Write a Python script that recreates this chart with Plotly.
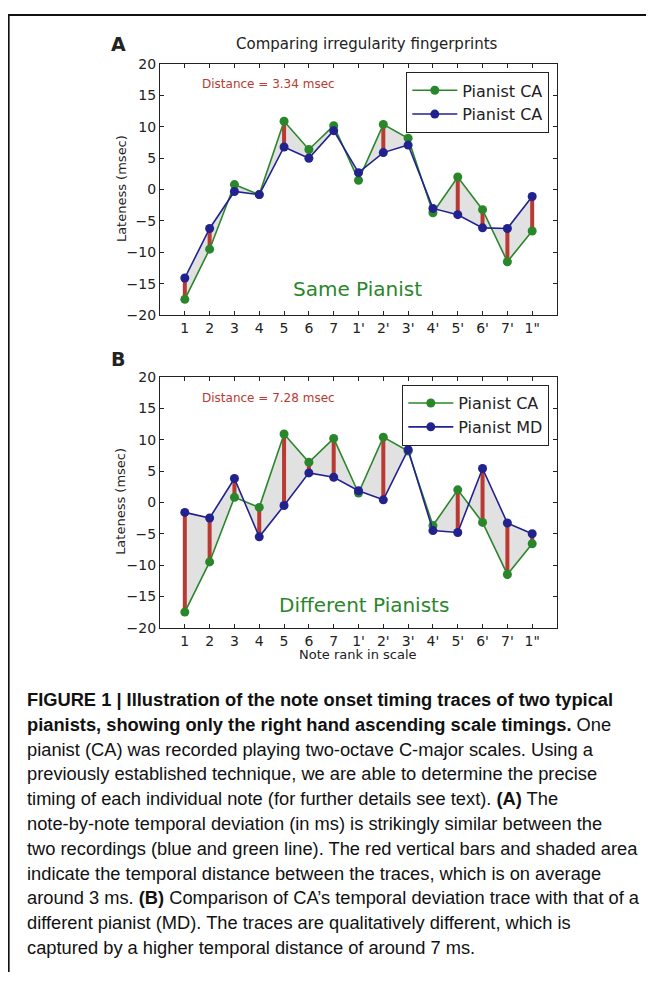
import plotly.graph_objects as go

# Page body has an 8px default margin: the figure is made 16px smaller and
# every layout position is shifted by that margin.
OFF = 8
W, H = 654 - 2 * OFF, 988 - 2 * OFF

notes = ["1", "2", "3", "4", "5", "6", "7", "1'", "2'", "3'", "4'", "5'", "6'", "7'", "1\""]
ranks = list(range(1, 16))

ca_trace = [-17.5, -9.5, 0.8, -0.8, 10.9, 6.4, 10.2, 1.5, 10.4, 8.2, -3.7, 2.0, -3.2, -11.5, -6.6]
ca_repeat = [-14.1, -6.2, -0.3, -0.8, 6.8, 5.0, 9.4, 2.7, 5.9, 7.1, -3.0, -4.0, -6.1, -6.2, -1.1]
md_trace = [-1.6, -2.5, 3.8, -5.5, -0.5, 4.7, 4.0, 1.85, 0.4, 8.4, -4.5, -4.8, 5.4, -3.3, -5.0]

dist_a = "Distance = 3.34 msec"
dist_b = "Distance = 7.28 msec"

GREEN = "#2a862a"
BLUE = "#22228f"
RED = "#b83a32"
FILL = "rgba(200,200,200,0.55)"
FONT = "DejaVu Sans"


def px(x):
    return (x - OFF) / W


def py(y):
    return 1 - (y - OFF) / H


fig = go.Figure()


def add_panel(ref_x, ref_y, base, other, base_name, other_name, legend):
    fig.add_trace(go.Scatter(x=ranks, y=base, mode="lines", line=dict(width=0),
                             showlegend=False, hoverinfo="skip", xaxis=ref_x, yaxis=ref_y))
    fig.add_trace(go.Scatter(x=ranks, y=other, mode="lines", line=dict(width=0),
                             fill="tonexty", fillcolor=FILL,
                             showlegend=False, hoverinfo="skip", xaxis=ref_x, yaxis=ref_y))
    bx, by = [], []
    for r, a, b in zip(ranks, base, other):
        bx += [r, r, None]
        by += [a, b, None]
    fig.add_trace(go.Scatter(x=bx, y=by, mode="lines", line=dict(color=RED, width=4),
                             showlegend=False, hoverinfo="skip", xaxis=ref_x, yaxis=ref_y))
    fig.add_trace(go.Scatter(x=ranks, y=base, mode="lines+markers", name=base_name,
                             line=dict(color=GREEN, width=1.6),
                             marker=dict(color=GREEN, size=9),
                             legend=legend, xaxis=ref_x, yaxis=ref_y))
    fig.add_trace(go.Scatter(x=ranks, y=other, mode="lines+markers", name=other_name,
                             line=dict(color=BLUE, width=1.6),
                             marker=dict(color=BLUE, size=9),
                             legend=legend, xaxis=ref_x, yaxis=ref_y))


add_panel("x", "y", ca_trace, ca_repeat, "Pianist CA", "Pianist CA", "legend")
add_panel("x2", "y2", ca_trace, md_trace, "Pianist CA", "Pianist MD", "legend2")

axis_common = dict(showline=True, linecolor="#222", linewidth=1.3, mirror="allticks",
                   ticks="inside", ticklen=4, tickcolor="#222", showgrid=False, zeroline=False,
                   tickfont=dict(family=FONT, size=14, color="#222"))

xd = [px(160), px(557)]
legend_common = dict(xanchor="right", yanchor="top", traceorder="normal",
                     bordercolor="#222", borderwidth=1.3, bgcolor="white",
                     font=dict(family=FONT, size=16, color="#222"), itemwidth=45,
                     tracegroupgap=0)
fig.update_layout(
    width=W, height=H,
    margin=dict(l=0, r=0, t=0, b=0),
    paper_bgcolor="white", plot_bgcolor="white",
    xaxis=dict(domain=xd, range=[0, 16], tickvals=ranks, ticktext=notes, anchor="y", **axis_common),
    yaxis=dict(domain=[py(312), py(57)], range=[-20, 20], dtick=5, anchor="x", **axis_common),
    xaxis2=dict(domain=xd, range=[0, 16], tickvals=ranks, ticktext=notes, anchor="y2", **axis_common),
    yaxis2=dict(domain=[py(630), py(375)], range=[-20, 20], dtick=5, anchor="x2", **axis_common),
    legend=dict(x=px(549), y=py(65), **legend_common),
    legend2=dict(x=px(549), y=py(383), **legend_common),
    showlegend=True,
)

ann = []


def text(x, y, s, size, color="#222", anchor="center", angle=0, family=FONT):
    ann.append(dict(x=px(x), y=py(y), xref="paper", yref="paper", text=s, showarrow=False,
                    xanchor=anchor, yanchor="middle", textangle=angle,
                    font=dict(family=family, size=size, color=color)))


text(118, 36, "<b>A</b>", 19)
text(118, 357, "<b>B</b>", 19)
text(367, 36, "Comparing irregularity fingerprints", 15)
text(200, 77, dist_a, 12, RED, "left")
text(200, 396, dist_b, 12, RED, "left")
text(357, 286, "Same Pianist", 20, GREEN)
text(364, 607, "Different Pianists", 20, GREEN)
text(121, 184, "Lateness (msec)", 13, angle=-90)
text(121, 502, "Lateness (msec)", 13, angle=-90)
text(358, 657, "Note rank in scale", 13)

caption = [
    "<b>FIGURE 1 | Illustration of the note onset timing traces of two typical</b>",
    "<b>pianists, showing only the right hand ascending scale timings.</b> One",
    "pianist (CA) was recorded playing two-octave C-major scales. Using a",
    "previously established technique, we are able to determine the precise",
    "timing of each individual note (for further details see text). <b>(A)</b> The",
    "note-by-note temporal deviation (in ms) is strikingly similar between the",
    "two recordings (blue and green line). The red vertical bars and shaded area",
    "indicate the temporal distance between the traces, which is on average",
    "around 3 ms. <b>(B)</b> Comparison of CA\u2019s temporal deviation trace with that of a",
    "different pianist (MD). The traces are qualitatively different, which is",
    "captured by a higher temporal distance of around 7 ms.",
]
for i, line in enumerate(caption):
    text(25, 703 + i * 25.2, line, 18.3, "#111", "left",
         family="Liberation Sans Narrow, Arial Narrow, Liberation Sans, Arial")

fig.update_layout(annotations=ann)

fig.update_layout(shapes=[
    dict(type="line", xref="paper", yref="paper", x0=0, x1=1, y0=py(7), y1=py(7),
         line=dict(color="#111", width=2)),
    dict(type="line", xref="paper", yref="paper", x0=0.001, x1=0.001, y0=py(7), y1=0,
         line=dict(color="#111", width=2)),
])

fig.write_html("out.html")
